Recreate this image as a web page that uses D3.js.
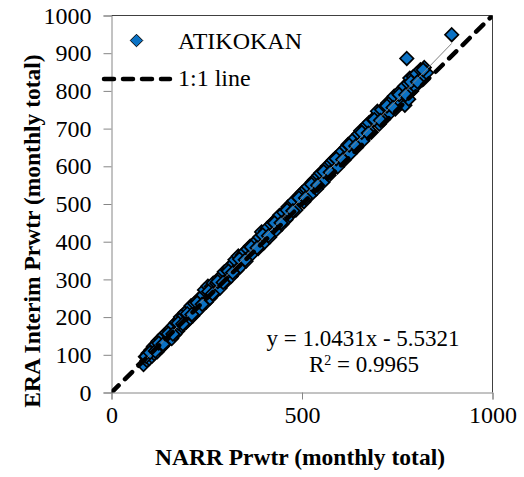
<!DOCTYPE html>
<html>
<head>
<meta charset="utf-8">
<script src="https://cdn.jsdelivr.net/npm/d3@7"></script>
<style>
  html, body { margin: 0; padding: 0; background: #fff; }
  svg { display: block; }
</style>
</head>
<body>
<svg id="chart" width="524" height="477"></svg>
<script>
// Monthly precipitable water totals: NARR (x) vs ERA Interim (y), station ATIKOKAN
const narr = [
  84, 89, 93, 96, 99, 103, 106, 110, 112, 117, 120, 122, 126, 129, 133, 137, 140, 144, 147, 152,
  156, 158, 163, 166, 170, 174, 178, 181, 185, 189, 193, 196, 201, 205, 209, 213, 218, 222, 227, 231,
  236, 241, 244, 249, 253, 258, 262, 267, 271, 276, 281, 285, 290, 296, 300, 305, 309, 314, 320, 324,
  329, 333, 338, 343, 349, 353, 358, 364, 369, 374, 379, 385, 389, 394, 399, 404, 409, 415, 420, 425,
  431, 436, 441, 447, 452, 458, 463, 468, 474, 479, 484, 490, 495, 500, 505, 511, 516, 522, 527, 533,
  538, 544, 549, 555, 560, 566, 571, 577, 582, 588, 593, 599, 604, 610, 616, 621, 627, 632, 638, 643,
  649, 654, 660, 665, 671, 676, 682, 687, 693, 698, 703, 709, 714, 720, 725, 731, 736, 742, 747, 753,
  758, 764, 769, 774, 779, 783, 788, 792, 797, 801, 806, 811, 816, 821, 827, 775, 893,
  745, 760, 770, 780,
  91, 101, 115, 124, 135, 149, 161, 175, 187, 199, 211, 225, 238, 255, 265, 279, 293, 307, 318, 336,
  351, 367, 382, 397, 412, 428, 445, 461, 476, 492, 509, 525, 541, 557, 574, 590, 607, 624, 641, 657,
  674, 690, 706, 723, 739, 755, 772, 786, 803, 818
];
const era = [
  74, 95, 85, 104, 90, 112, 96, 122, 103, 128, 108, 136, 118, 142, 122, 151, 130, 158, 138, 164,
  170, 143, 178, 154, 186, 163, 192, 200, 176, 203, 212, 186, 219, 196, 230, 203, 236, 214, 246, 222,
  252, 258, 272, 240, 282, 250, 281, 290, 264, 290, 302, 277, 310, 320, 294, 324, 332, 308, 342, 352,
  324, 362, 334, 364, 372, 348, 380, 388, 368, 396, 400, 382, 412, 426, 396, 428, 436, 412, 446, 452,
  430, 462, 470, 446, 478, 458, 492, 470, 502, 508, 484, 518, 524, 530, 506, 540, 546, 524, 558, 564,
  540, 576, 582, 558, 590, 600, 576, 610, 616, 622, 598, 632, 638, 616, 650, 658, 634, 668, 674, 650,
  686, 694, 668, 702, 710, 716, 690, 724, 732, 746, 712, 750, 724, 758, 768, 742, 774, 786, 758, 794,
  800, 776, 812, 788, 820, 834, 800, 838, 812, 846, 826, 856, 834, 862, 848, 886, 949,
  752, 768, 762, 778,
  96, 106, 110, 131, 128, 156, 155, 184, 182, 209, 207, 238, 234, 268, 262, 294, 292, 322, 318, 354,
  352, 386, 384, 418, 416, 450, 450, 484, 482, 516, 516, 552, 550, 586, 584, 620, 618, 656, 654, 690,
  688, 724, 722, 760, 756, 790, 790, 824, 824, 856
];
const yTicks = [0, 100, 200, 300, 400, 500, 600, 700, 800, 900, 1000];
const xTicks = [0, 500, 1000];
const seriesName = "ATIKOKAN";
const refName = "1:1 line";
const slope = 1.0431, intercept = -5.5321, rSquared = 0.9965;

const serif = "Liberation Serif";
const svg = d3.select("#chart");
const plot = { left: 111.5, right: 492.5, top: 15.5, bottom: 392.5 };

const x = d3.scaleLinear().domain([0, 1000]).range([plot.left, plot.right]);
const y = d3.scaleLinear().domain([0, 1000]).range([plot.bottom, plot.top]);

const axisGray = "#868686";

// frame: top and right edges of the plot area
svg.append("path")
  .attr("d", `M${plot.left},${plot.top}H${plot.right}V${plot.bottom}`)
  .attr("fill", "none").attr("stroke", "#404040").attr("stroke-width", 1);

// y axis
const yAxis = svg.append("g")
  .attr("transform", `translate(${plot.left},0)`)
  .call(d3.axisLeft(y).tickValues(yTicks).tickSize(8).tickPadding(12).tickFormat(d3.format("d")));
yAxis.attr("font-family", serif).attr("font-size", 24);
yAxis.select(".domain").attr("stroke", axisGray);
yAxis.selectAll(".tick line").attr("stroke", axisGray);
yAxis.selectAll(".tick text").attr("fill", "#000");

// x axis
const xAxis = svg.append("g")
  .attr("transform", `translate(0,${plot.bottom})`)
  .call(d3.axisBottom(x).tickValues(xTicks).tickSize(7).tickPadding(6).tickFormat(d3.format("d")));
xAxis.attr("font-family", serif).attr("font-size", 24);
xAxis.select(".domain").attr("stroke", axisGray);
xAxis.selectAll(".tick line").attr("stroke", axisGray);
xAxis.selectAll(".tick text").attr("fill", "#000");

// axis titles
svg.append("text")
  .attr("x", 300).attr("y", 465)
  .attr("text-anchor", "middle")
  .attr("font-family", serif).attr("font-size", 23.5).attr("font-weight", "bold")
  .text("NARR Prwtr (monthly total)");

svg.append("text")
  .attr("transform", "translate(40,231) rotate(-90)")
  .attr("text-anchor", "middle")
  .attr("font-family", serif).attr("font-size", 23.5).attr("font-weight", "bold")
  .text("ERA Interim Prwtr (monthly total)");

// clip region of the plot area
const clipId = "plot-clip";
svg.append("clipPath").attr("id", clipId)
  .append("rect")
  .attr("x", plot.left).attr("y", plot.top)
  .attr("width", plot.right - plot.left).attr("height", plot.bottom - plot.top);

// markers
const points = narr.map((v, i) => ({ x: v, y: era[i] }));
const diamond = d3.symbol().type(d3.symbolDiamond2).size(115);
const legendDiamond = d3.symbol().type(d3.symbolDiamond2).size(100);
const markerFill = "#0b72c4";

svg.append("g").selectAll("path")
  .data(points)
  .join("path")
  .attr("transform", d => `translate(${x(d.x)},${y(d.y)})`)
  .attr("d", diamond)
  .attr("fill", markerFill)
  .attr("stroke", "#000")
  .attr("stroke-width", 1.7);

// linear trendline over the data range
const xMin = d3.min(narr), xMax = d3.max(narr);
svg.append("line")
  .attr("x1", x(xMin)).attr("y1", y(slope * xMin + intercept))
  .attr("x2", x(xMax)).attr("y2", y(slope * xMax + intercept))
  .attr("stroke", "#808080").attr("stroke-width", 1);

// 1:1 reference line
svg.append("line")
  .attr("clip-path", `url(#${clipId})`)
  .attr("x1", x(0)).attr("y1", y(0))
  .attr("x2", x(1000)).attr("y2", y(1000))
  .attr("stroke", "#000").attr("stroke-width", 4.5)
  .attr("stroke-dasharray", "10,9")
  .attr("stroke-linecap", "round");

// legend
const legend = svg.append("g").attr("font-family", serif).attr("font-size", 24);
legend.append("path")
  .attr("transform", "translate(136.5,40.5)")
  .attr("d", legendDiamond)
  .attr("fill", markerFill).attr("stroke", "#000").attr("stroke-width", 1);
legend.append("text")
  .attr("x", 178).attr("y", 48.5)
  .text(seriesName);
legend.append("line")
  .attr("x1", 104).attr("y1", 79).attr("x2", 170).attr("y2", 79)
  .attr("stroke", "#000").attr("stroke-width", 4.5)
  .attr("stroke-dasharray", "10,9")
  .attr("stroke-linecap", "round");
legend.append("text")
  .attr("x", 178).attr("y", 86)
  .text(refName);

// trendline equation
const eq = svg.append("g").attr("font-family", serif).attr("font-size", 23);
eq.append("text")
  .attr("x", 363).attr("y", 346).attr("text-anchor", "middle")
  .text(`y = ${slope}x - ${Math.abs(intercept)}`);
const r2 = eq.append("text")
  .attr("x", 364).attr("y", 372).attr("text-anchor", "middle");
r2.append("tspan").text("R");
r2.append("tspan").attr("dy", -7).attr("font-size", 14).text("2");
r2.append("tspan").attr("dy", 7).text(` = ${rSquared}`);
</script>
</body>
</html>
